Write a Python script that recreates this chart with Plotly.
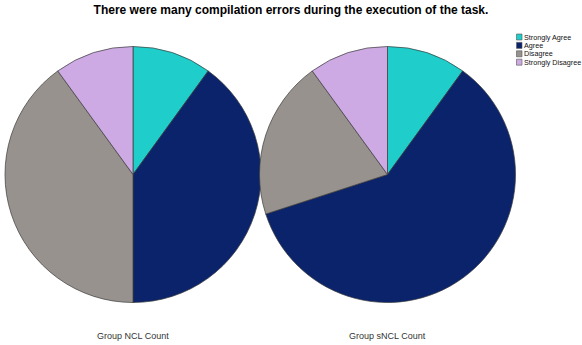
import plotly.graph_objects as go

# Survey responses for the statement, per group (counts)
categories = ["Strongly Agree", "Agree", "Disagree", "Strongly Disagree"]
ncl_counts = [1, 4, 4, 1]
sncl_counts = [1, 6, 2, 1]
group_labels = ["Group NCL Count", "Group sNCL Count"]
title_text = "There were many compilation errors during the execution of the task."

colors = ["#1fcdcb", "#0a236b", "#98928f", "#cdaae3"]

W, H = 582, 345
FONT = "Liberation Sans, Arial"


def px_domain(x0, x1, y0, y1):
    # convert pixel box (top-left origin) into paper fractions
    return dict(x=[x0 / W, x1 / W], y=[1 - y1 / H, 1 - y0 / H])


fig = go.Figure()
pie_boxes = [(5, 261, 46.5, 302.5), (259.5, 515.5, 46.5, 302.5)]
for i, vals in enumerate([ncl_counts, sncl_counts]):
    fig.add_trace(go.Pie(
        labels=categories,
        values=vals,
        sort=False,
        direction="clockwise",
        rotation=0,
        textinfo="none",
        hoverinfo="label+value",
        marker=dict(colors=colors, line=dict(color="#3a3a3a", width=0.7)),
        domain=px_domain(*pie_boxes[i]),
        showlegend=False,
    ))

# group captions under each pie
for i, label in enumerate(group_labels):
    cx = (pie_boxes[i][0] + pie_boxes[i][1]) / 2
    fig.add_annotation(
        text=label, x=cx / W, y=1 - 336 / H, xref="paper", yref="paper",
        showarrow=False, xanchor="center", yanchor="middle",
        font=dict(family=FONT, size=9, color="#333333"),
    )

# compact legend: swatch + label per category
row0, row_step = 37, 8.4
for k, (cat, col) in enumerate(zip(categories, colors)):
    yc = row0 + k * row_step
    fig.add_shape(
        type="rect", xref="paper", yref="paper",
        x0=516.5 / W, x1=522 / W, y0=1 - (yc + 3) / H, y1=1 - (yc - 3) / H,
        fillcolor=col, line=dict(color="#555555", width=0.6),
    )
    fig.add_annotation(
        text=cat, x=522.5 / W, y=1 - yc / H, xref="paper", yref="paper",
        showarrow=False, xanchor="left", yanchor="middle",
        font=dict(family=FONT, size=7.2, color="#111111"),
        borderpad=0,
    )

fig.update_layout(
    width=W, height=H,
    margin=dict(l=0, r=0, t=0, b=0, autoexpand=False),
    paper_bgcolor="white", plot_bgcolor="white",
    showlegend=False,
    title=dict(
        text="<b>" + title_text + "</b>", x=0.5, xanchor="center",
        y=1 - 10 / H, yanchor="middle",
        font=dict(family=FONT, size=12, color="#000000"),
    ),
)

fig.write_html("out.html")
